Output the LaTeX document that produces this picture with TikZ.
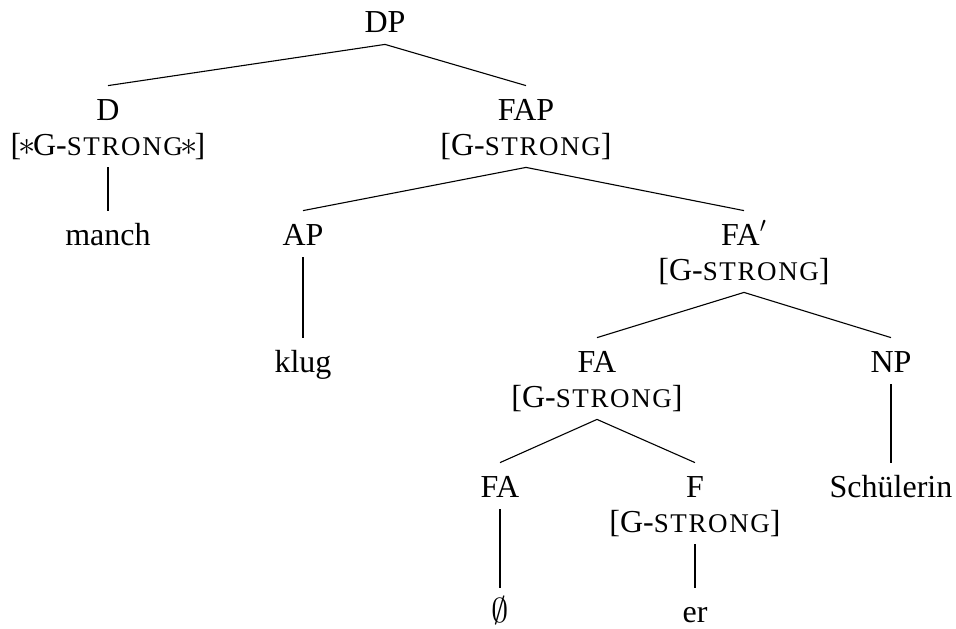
\documentclass[tikz,border=0pt]{standalone}
\usepackage{fontspec}
\setmainfont{Liberation Serif}
\newcommand\gsmc{G-{\fontsize{13.5}{16}\selectfont\addfontfeatures{LetterSpace=6}STRONG}}
\newcommand\myast{\kern-1.4pt$\ast$\kern-1.4pt}
\begin{document}
\begin{tikzpicture}[x=0.5pt,y=-0.5pt,
  lab/.style={anchor=base,font=\fontsize{16}{19}\selectfont,text height=11pt,text depth=0pt,inner xsep=0pt,inner ysep=6pt},
  edge/.style={line width=0.55pt}]
\useasboundingbox (0,0) rectangle (956,628);
% level 0
\node[lab] (dp) at (385,32) {DP};
% level 1
\node[lab] (d) at (108,120) {D};
\node[lab] (df) at (108,155) {[\myast\gsmc\myast]};
\node[lab] (fap) at (526,120) {FAP};
\node[lab] (fapf) at (526,155) {[\gsmc]};
% level 2
\node[lab] (manch) at (108,245) {manch};
\node[lab] (ap) at (303,245) {AP};
\node[lab] (fa1) at (744,245) {FA$'$};
\node[lab] (fa1f) at (744,280) {[\gsmc]};
% level 3
\node[lab] (klug) at (303,372) {klug};
\node[lab] (fa2) at (597,372) {FA};
\node[lab] (fa2f) at (597,407) {[\gsmc]};
\node[lab] (np) at (891,372) {NP};
% level 4
\node[lab] (fa3) at (500,497) {FA};
\node[lab] (f) at (695,497) {F};
\node[lab] (ff) at (695,532) {[\gsmc]};
\node[lab] (sch) at (891,497) {Schülerin};
% level 5
\node[lab] (empty) at (500,622) {$\emptyset$};
\node[lab] (er) at (695,622) {er};
% edges
\draw[edge] (dp.south) -- (d.north);
\draw[edge] (dp.south) -- (fap.north);
\draw[edge] (df.south) -- (manch.north);
\draw[edge] (fapf.south) -- (ap.north);
\draw[edge] (fapf.south) -- (fa1.north);
\draw[edge] (ap.south) -- (klug.north);
\draw[edge] (fa1f.south) -- (fa2.north);
\draw[edge] (fa1f.south) -- (np.north);
\draw[edge] (np.south) -- (sch.north);
\draw[edge] (fa2f.south) -- (fa3.north);
\draw[edge] (fa2f.south) -- (f.north);
\draw[edge] (fa3.south) -- (empty.north);
\draw[edge] (ff.south) -- (er.north);
\end{tikzpicture}
\end{document}
